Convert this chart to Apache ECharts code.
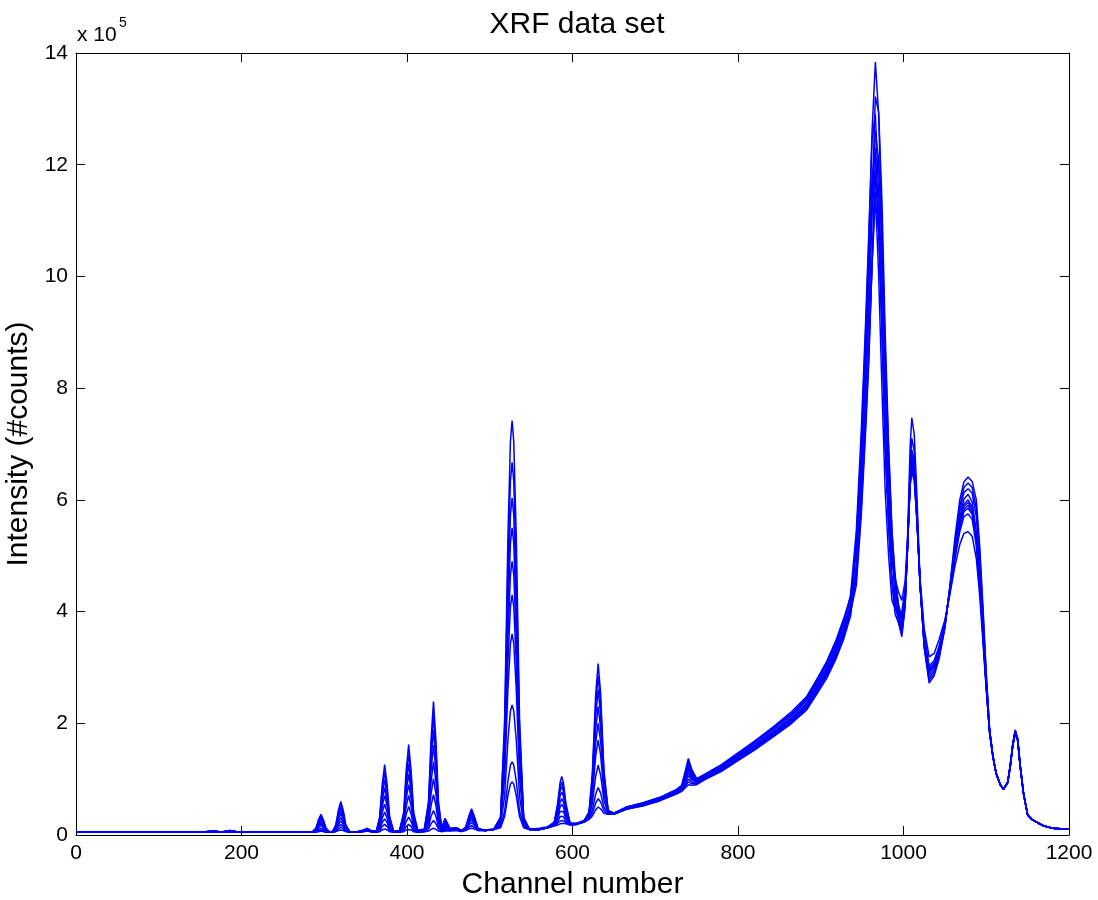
<!DOCTYPE html>
<html>
<head>
<meta charset="utf-8">
<title>XRF data set</title>
<script src="https://cdn.jsdelivr.net/npm/echarts@6/dist/echarts.min.js"></script>
<style>
  html, body { margin: 0; padding: 0; background: #fff; }
  #chart { width: 1098px; height: 900px; }
</style>
</head>
<body>
<div id="chart"></div>
<script>
const CH = [0, 60, 120, 150, 166, 176, 186, 196, 230, 260, 280,
  286, 290, 293, 296, 299, 302, 306,
  310, 314, 317, 320, 323, 326, 331,
  338, 346, 352, 358,
  363, 367, 370, 373, 376, 379, 384,
  391, 396, 399, 402, 405, 408, 413,
  421, 426, 429, 432, 435, 438, 442,
  446, 452, 460, 466,
  471, 475, 478, 481, 486,
  495, 505,
  513, 518, 522, 525, 527, 529, 532, 536, 541, 548,
  560, 570,
  578, 582, 585, 587, 589, 592, 597,
  605, 614,
  620, 624, 628, 631, 634, 638, 643, 650,
  665, 685, 705, 725,
  732, 736, 740, 744, 750,
  760, 780, 800, 820, 843, 865, 883, 895, 907, 918, 928,
  936, 943, 949, 954, 958, 962, 966, 970, 974, 978, 982, 986, 990, 994, 998,
  1002, 1005, 1008, 1010, 1013, 1016, 1020, 1025, 1031,
  1037, 1043, 1050, 1056, 1062, 1068, 1073, 1078, 1083, 1088, 1092, 1096, 1100, 1104, 1108, 1112, 1117, 1121,
  1126, 1129, 1132, 1135, 1138, 1141, 1145, 1150, 1155, 1162, 1170, 1180, 1190, 1200];

// intensities, in units of 10^5 counts
const S1 = [0.05,0.05,0.05,0.05,0.07,0.055,0.08,0.055,0.05,0.05,0.05,
  0.06,0.12,0.27,0.37,0.27,0.12,0.06,
  0.06,0.18,0.44,0.60,0.44,0.18,0.06,
  0.05,0.08,0.12,0.07,
  0.07,0.33,0.90,1.26,0.90,0.33,0.06,
  0.08,0.41,1.15,1.62,1.15,0.41,0.08,
  0.11,0.60,1.69,2.39,1.69,0.60,0.13,
  0.30,0.12,0.13,0.08,
  0.14,0.35,0.47,0.35,0.11,
  0.09,0.11,
  0.32,2.08,5.37,7.05,7.42,7.05,5.37,2.08,0.32,0.10,
  0.12,0.15,
  0.23,0.56,0.94,1.05,0.94,0.57,0.21,
  0.21,0.26,
  0.41,1.11,2.51,3.07,2.53,1.16,0.44,0.39,
  0.50,0.58,0.67,0.81,
  0.89,1.13,1.37,1.18,1.01,
  1.09,1.26,1.47,1.68,1.94,2.21,2.48,2.78,3.10,3.47,3.89,
  4.25,5.2,7.0,8.9,10.6,12.6,13.84,12.9,10.8,8.3,6.5,5.1,4.2,3.8,3.55,
  4.1,5.35,6.95,7.47,7.17,6.15,4.55,3.35,2.72,
  2.85,3.15,3.7,4.45,5.3,6.0,6.32,6.41,6.33,6.0,5.2,4.1,2.9,1.9,1.42,1.1,0.9,0.82,
  0.95,1.25,1.63,1.88,1.72,1.25,0.75,0.36,0.28,0.22,0.16,0.12,0.11,0.11];

const S2 = [0.05,0.05,0.05,0.05,0.07,0.055,0.08,0.055,0.05,0.05,0.05,
  0.06,0.12,0.25,0.34,0.25,0.12,0.06,
  0.06,0.17,0.40,0.55,0.40,0.17,0.05,
  0.05,0.08,0.11,0.07,
  0.07,0.30,0.81,1.13,0.81,0.30,0.06,
  0.08,0.37,1.03,1.45,1.03,0.37,0.08,
  0.10,0.54,1.52,2.14,1.52,0.54,0.12,
  0.27,0.11,0.13,0.08,
  0.14,0.33,0.44,0.33,0.11,
  0.08,0.10,
  0.30,1.87,4.83,6.34,6.67,6.34,4.83,1.87,0.30,0.10,
  0.10,0.13,
  0.22,0.52,0.85,0.95,0.85,0.53,0.21,
  0.20,0.25,
  0.40,1.05,2.33,2.85,2.35,1.10,0.44,0.39,
  0.50,0.57,0.67,0.80,
  0.88,1.09,1.32,1.14,1.00,
  1.08,1.25,1.46,1.66,1.92,2.18,2.45,2.76,3.07,3.43,3.85,
  4.2,4.73,6.24,7.9,9.4,11.38,13.22,12.94,11.33,8.92,7.01,5.47,4.5,3.93,3.6,
  4.1,5.25,6.65,7.1,6.87,5.95,4.5,3.38,2.77,
  2.89,3.19,3.72,4.43,5.2,5.88,6.22,6.3,6.22,5.85,5.05,4.0,2.85,1.89,1.42,1.1,0.9,0.82,
  0.95,1.25,1.62,1.87,1.72,1.25,0.75,0.36,0.28,0.22,0.16,0.12,0.11,0.11];

const S3 = [0.05,0.05,0.05,0.05,0.07,0.055,0.08,0.055,0.05,0.05,0.05,
  0.06,0.11,0.23,0.30,0.23,0.11,0.06,
  0.06,0.15,0.36,0.49,0.36,0.15,0.05,
  0.05,0.08,0.11,0.07,
  0.07,0.27,0.71,0.99,0.71,0.27,0.06,
  0.07,0.33,0.90,1.27,0.90,0.33,0.07,
  0.10,0.48,1.33,1.88,1.33,0.48,0.11,
  0.24,0.11,0.12,0.08,
  0.13,0.31,0.41,0.31,0.10,
  0.08,0.10,
  0.28,1.70,4.37,5.73,6.03,5.73,4.37,1.70,0.28,0.10,
  0.10,0.13,
  0.22,0.48,0.79,0.87,0.79,0.49,0.21,
  0.20,0.25,
  0.39,0.97,2.13,2.60,2.15,1.02,0.43,0.39,
  0.49,0.57,0.66,0.79,
  0.87,1.06,1.27,1.11,0.99,
  1.07,1.24,1.44,1.65,1.91,2.16,2.43,2.73,3.04,3.40,3.81,
  4.3,5.44,7.25,9.1,10.74,12.45,12.9,11.44,9.18,6.97,5.56,4.51,3.95,3.8,3.65,
  4.15,5.2,6.5,6.9,6.7,5.85,4.48,3.4,2.82,
  2.93,3.22,3.73,4.42,5.15,5.79,6.13,6.2,6.12,5.7,4.9,3.9,2.8,1.88,1.42,1.1,0.9,0.82,
  0.95,1.25,1.62,1.87,1.71,1.25,0.75,0.36,0.28,0.22,0.16,0.12,0.11,0.11];

const S4 = [0.05,0.05,0.05,0.05,0.07,0.055,0.075,0.055,0.05,0.05,0.05,
  0.05,0.10,0.20,0.27,0.20,0.10,0.05,
  0.06,0.14,0.32,0.43,0.32,0.14,0.05,
  0.05,0.07,0.10,0.06,
  0.07,0.23,0.61,0.85,0.61,0.23,0.06,
  0.07,0.29,0.78,1.09,0.78,0.29,0.07,
  0.09,0.42,1.15,1.61,1.15,0.42,0.11,
  0.21,0.10,0.12,0.07,
  0.13,0.29,0.38,0.29,0.10,
  0.08,0.10,
  0.26,1.56,3.99,5.23,5.50,5.23,3.99,1.56,0.26,0.10,
  0.10,0.13,
  0.21,0.44,0.70,0.77,0.70,0.45,0.20,
  0.20,0.24,
  0.37,0.88,1.89,2.30,1.91,0.93,0.42,0.38,
  0.49,0.56,0.65,0.78,
  0.85,1.03,1.21,1.08,0.97,
  1.06,1.22,1.42,1.62,1.88,2.13,2.40,2.69,2.99,3.35,3.76,
  4.12,4.83,6.32,7.93,9.37,11.17,12.6,12.08,10.41,8.19,6.5,5.16,4.37,3.95,3.7,
  4.18,5.17,6.42,6.8,6.62,5.8,4.47,3.42,2.87,
  2.98,3.26,3.75,4.4,5.07,5.68,6.01,6.1,5.96,5.43,4.64,3.65,2.7,1.87,1.41,1.1,0.9,0.82,
  0.95,1.24,1.61,1.86,1.71,1.24,0.75,0.36,0.28,0.22,0.16,0.12,0.11,0.11];

const S5 = [0.05,0.05,0.05,0.05,0.065,0.05,0.07,0.05,0.05,0.05,0.05,
  0.05,0.09,0.18,0.23,0.18,0.09,0.05,
  0.06,0.13,0.28,0.38,0.28,0.13,0.05,
  0.05,0.07,0.10,0.06,
  0.06,0.20,0.51,0.71,0.51,0.20,0.06,
  0.07,0.25,0.65,0.90,0.65,0.25,0.07,
  0.09,0.35,0.94,1.31,0.94,0.35,0.10,
  0.18,0.10,0.11,0.07,
  0.12,0.27,0.35,0.27,0.10,
  0.08,0.10,
  0.24,1.40,3.56,4.66,4.90,4.66,3.56,1.40,0.24,0.10,
  0.10,0.13,
  0.20,0.38,0.59,0.65,0.59,0.39,0.20,
  0.20,0.24,
  0.36,0.79,1.65,2.00,1.67,0.84,0.41,0.38,
  0.48,0.55,0.64,0.77,
  0.84,1.00,1.16,1.05,0.96,
  1.04,1.20,1.40,1.60,1.85,2.10,2.36,2.65,2.95,3.30,3.70,
  4.12,5.26,6.92,8.62,10.14,11.76,12.3,11.05,9.0,6.93,5.56,4.55,4.05,3.9,3.75,
  4.22,5.17,6.38,6.75,6.57,5.77,4.48,3.45,2.92,
  3.02,3.3,3.76,4.39,5.03,5.61,5.92,6.0,5.87,5.36,4.59,3.62,2.69,1.87,1.41,1.1,0.9,0.82,
  0.95,1.24,1.61,1.86,1.71,1.24,0.75,0.36,0.28,0.22,0.16,0.12,0.11,0.11];

const S6 = [0.05,0.05,0.05,0.05,0.06,0.05,0.07,0.05,0.05,0.05,0.05,
  0.05,0.08,0.16,0.20,0.16,0.08,0.05,
  0.06,0.11,0.23,0.31,0.23,0.11,0.05,
  0.05,0.07,0.09,0.06,
  0.06,0.17,0.40,0.55,0.40,0.17,0.06,
  0.06,0.20,0.51,0.71,0.51,0.20,0.06,
  0.08,0.28,0.73,1.01,0.73,0.28,0.09,
  0.16,0.09,0.11,0.07,
  0.11,0.24,0.31,0.24,0.09,
  0.08,0.10,
  0.23,1.23,3.12,4.09,4.30,4.09,3.12,1.23,0.23,0.10,
  0.10,0.13,
  0.19,0.33,0.50,0.55,0.50,0.34,0.20,
  0.20,0.24,
  0.34,0.70,1.41,1.70,1.43,0.75,0.40,0.38,
  0.48,0.54,0.63,0.76,
  0.83,0.97,1.11,1.02,0.95,
  1.03,1.19,1.39,1.58,1.83,2.08,2.34,2.62,2.92,3.27,3.66,
  4.0,4.47,5.73,7.16,8.44,10.22,12.1,12.07,10.78,8.64,6.87,5.44,4.64,4.1,3.8,
  4.26,5.18,6.35,6.7,6.52,5.75,4.49,3.48,2.94,
  3.04,3.31,3.77,4.38,5.01,5.57,5.88,5.95,5.83,5.32,4.57,3.61,2.68,1.86,1.41,1.1,0.9,0.82,
  0.95,1.24,1.6,1.85,1.7,1.24,0.75,0.36,0.28,0.22,0.16,0.12,0.11,0.11];

const S7 = [0.05,0.05,0.05,0.05,0.06,0.05,0.065,0.05,0.05,0.05,0.05,
  0.05,0.08,0.13,0.17,0.13,0.08,0.05,
  0.05,0.10,0.19,0.25,0.19,0.10,0.05,
  0.05,0.07,0.09,0.06,
  0.06,0.13,0.30,0.41,0.30,0.13,0.05,
  0.06,0.16,0.37,0.51,0.37,0.16,0.06,
  0.07,0.21,0.52,0.72,0.52,0.21,0.08,
  0.13,0.09,0.10,0.07,
  0.11,0.21,0.27,0.21,0.09,
  0.08,0.10,
  0.21,1.05,2.62,3.43,3.60,3.43,2.62,1.05,0.21,0.10,
  0.10,0.13,
  0.18,0.29,0.42,0.45,0.42,0.30,0.19,
  0.20,0.24,
  0.32,0.57,1.05,1.25,1.07,0.62,0.39,0.38,
  0.47,0.54,0.63,0.75,
  0.82,0.94,1.06,0.99,0.94,
  1.02,1.18,1.37,1.57,1.81,2.06,2.31,2.60,2.89,3.23,3.63,
  4.05,5.1,6.65,8.25,9.67,11.24,11.9,10.84,8.96,6.97,5.63,4.6,4.13,3.98,3.85,
  4.3,5.2,6.32,6.65,6.48,5.73,4.5,3.5,2.96,
  3.06,3.33,3.78,4.37,4.99,5.54,5.83,5.9,5.78,5.29,4.54,3.59,2.67,1.86,1.41,1.1,0.9,0.82,
  0.95,1.23,1.6,1.85,1.7,1.23,0.74,0.36,0.28,0.22,0.16,0.12,0.11,0.11];

const S8 = [0.05,0.05,0.05,0.05,0.06,0.05,0.065,0.05,0.05,0.05,0.05,
  0.05,0.07,0.10,0.12,0.10,0.07,0.05,
  0.05,0.08,0.15,0.19,0.15,0.08,0.05,
  0.05,0.06,0.08,0.06,
  0.05,0.11,0.22,0.29,0.22,0.11,0.05,
  0.06,0.11,0.24,0.32,0.24,0.11,0.06,
  0.07,0.15,0.33,0.44,0.33,0.15,0.07,
  0.11,0.08,0.10,0.07,
  0.10,0.18,0.22,0.18,0.09,
  0.08,0.10,
  0.17,0.70,1.71,2.22,2.33,2.22,1.71,0.70,0.17,0.10,
  0.10,0.13,
  0.17,0.24,0.33,0.35,0.33,0.25,0.19,
  0.19,0.23,
  0.30,0.45,0.73,0.85,0.75,0.50,0.38,0.38,
  0.47,0.53,0.62,0.75,
  0.81,0.90,1.00,0.95,0.92,
  1.01,1.16,1.36,1.55,1.79,2.04,2.29,2.57,2.86,3.20,3.59,
  3.98,4.6,5.88,7.29,8.56,10.21,11.7,11.41,10.02,8.0,6.42,5.15,4.53,4.12,3.9,
  4.34,5.22,6.29,6.6,6.44,5.7,4.51,3.53,2.99,
  3.08,3.35,3.79,4.36,4.97,5.5,5.79,5.85,5.74,5.25,4.52,3.58,2.66,1.85,1.41,1.1,0.9,0.82,
  0.94,1.23,1.59,1.84,1.69,1.23,0.74,0.36,0.28,0.22,0.16,0.12,0.11,0.11];

const S9 = [0.05,0.05,0.05,0.05,0.055,0.05,0.06,0.05,0.05,0.05,0.05,
  0.05,0.06,0.08,0.09,0.08,0.06,0.05,
  0.05,0.07,0.11,0.14,0.11,0.07,0.05,
  0.05,0.06,0.07,0.06,
  0.05,0.08,0.15,0.19,0.15,0.08,0.05,
  0.05,0.08,0.15,0.19,0.15,0.08,0.05,
  0.06,0.11,0.20,0.26,0.20,0.11,0.07,
  0.09,0.08,0.09,0.07,
  0.09,0.14,0.17,0.14,0.08,
  0.08,0.10,
  0.14,0.43,0.97,1.25,1.31,1.25,0.97,0.43,0.14,0.10,
  0.10,0.13,
  0.17,0.21,0.25,0.27,0.26,0.22,0.18,
  0.19,0.23,
  0.29,0.39,0.57,0.65,0.59,0.44,0.37,0.37,
  0.46,0.53,0.61,0.74,
  0.79,0.87,0.95,0.92,0.91,
  1.00,1.15,1.34,1.54,1.78,2.02,2.27,2.54,2.83,3.17,3.55,
  4.1,5.33,6.94,8.55,9.99,11.39,11.5,10.02,7.96,6.12,5.0,4.2,4.05,3.95,4.0,
  4.42,5.25,6.27,6.55,6.4,5.7,4.55,3.58,3.03,
  3.12,3.38,3.8,4.35,4.93,5.43,5.7,5.75,5.65,5.18,4.47,3.55,2.65,1.85,1.41,1.1,0.9,0.82,
  0.94,1.22,1.59,1.83,1.69,1.22,0.74,0.36,0.28,0.22,0.16,0.12,0.11,0.11];

const S10 = [0.05,0.05,0.05,0.05,0.055,0.05,0.06,0.05,0.05,0.05,0.05,
  0.05,0.05,0.06,0.07,0.06,0.05,0.05,
  0.05,0.06,0.08,0.09,0.08,0.06,0.05,
  0.05,0.06,0.07,0.05,
  0.05,0.06,0.09,0.11,0.09,0.06,0.05,
  0.05,0.06,0.09,0.10,0.09,0.06,0.05,
  0.06,0.07,0.10,0.12,0.10,0.07,0.06,
  0.07,0.07,0.08,0.06,
  0.08,0.11,0.12,0.11,0.08,
  0.08,0.10,
  0.13,0.33,0.71,0.91,0.95,0.91,0.71,0.33,0.13,0.10,
  0.10,0.13,
  0.16,0.18,0.20,0.21,0.21,0.20,0.18,
  0.19,0.23,
  0.28,0.34,0.45,0.50,0.47,0.39,0.37,0.37,
  0.46,0.52,0.61,0.73,
  0.78,0.84,0.90,0.89,0.90,
  0.99,1.14,1.33,1.52,1.76,2.00,2.24,2.52,2.80,3.14,3.52,
  3.92,4.73,6.05,7.45,8.7,10.24,11.35,10.79,9.29,7.4,5.98,4.88,4.58,4.35,4.2,
  4.55,5.35,6.25,6.5,6.34,5.7,4.6,3.7,3.19,
  3.25,3.5,3.85,4.3,4.8,5.2,5.4,5.43,5.35,4.95,4.3,3.45,2.6,1.82,1.4,1.09,0.89,0.82,
  0.93,1.22,1.58,1.82,1.68,1.22,0.74,0.36,0.28,0.22,0.16,0.12,0.11,0.11];

const SPECTRA = [S1, S2, S3, S4, S5, S6, S7, S8, S9, S10];

const X_TICKS = [0, 200, 400, 600, 800, 1000, 1200];
const Y_TICKS = [0, 2, 4, 6, 8, 10, 12, 14];

const chart = echarts.init(document.getElementById('chart'), null, { renderer: 'canvas' });

const FONT = 'Liberation Sans, Arial, Helvetica, sans-serif';

const seriesList = SPECTRA.map((vals, k) => ({
  type: 'line',
  name: 'spectrum ' + (k + 1),
  data: CH.map((c, i) => [c, vals[i]]),
  showSymbol: false,
  silent: true,
  lineStyle: { color: '#0000ff', width: 1.5 },
  itemStyle: { color: '#0000ff' }
}));

const baseX = {
  type: 'value',
  min: X_TICKS[0],
  max: X_TICKS[X_TICKS.length - 1],
  interval: 200,
  splitLine: { show: false },
  axisLine: { show: true, onZero: false, lineStyle: { color: '#000', width: 1 } },
  axisTick: { show: true, inside: true, length: 9, lineStyle: { color: '#000' } }
};
const baseY = {
  type: 'value',
  min: Y_TICKS[0],
  max: Y_TICKS[Y_TICKS.length - 1],
  interval: 2,
  splitLine: { show: false },
  axisLine: { show: true, onZero: false, lineStyle: { color: '#000', width: 1 } },
  axisTick: { show: true, inside: true, length: 9, lineStyle: { color: '#000' } }
};

chart.setOption({
  animation: false,
  backgroundColor: '#fff',
  title: {
    text: 'XRF data set',
    left: 572,
    top: 5,
    textAlign: 'center',
    textStyle: { fontFamily: FONT, fontSize: 30, fontWeight: 'normal', color: '#000' }
  },
  graphic: [
    { type: 'text', left: 77, top: 25, style: { text: 'x 10', font: '21px ' + FONT, fill: '#000' } },
    { type: 'text', left: 119, top: 16, style: { text: '5', font: '14px ' + FONT, fill: '#000' } }
  ],
  grid: { left: 76, top: 53, width: 993, height: 782, containLabel: false, outerBoundsMode: 'none' },
  xAxis: [
    Object.assign({}, baseX, {
      position: 'bottom',
      name: 'Channel number',
      nameLocation: 'middle',
      nameGap: 35,
      nameTextStyle: { fontFamily: FONT, fontSize: 30, color: '#000' },
      axisLabel: { fontFamily: FONT, fontSize: 21, color: '#000', margin: 8, formatter: v => String(v) }
    }),
    Object.assign({}, baseX, { position: 'top', axisLabel: { show: false } })
  ],
  yAxis: [
    Object.assign({}, baseY, {
      position: 'left',
      name: 'Intensity (#counts)',
      nameLocation: 'middle',
      nameGap: 27,
      nameRotate: 90,
      nameTextStyle: { fontFamily: FONT, fontSize: 30, color: '#000' },
      axisLabel: { fontFamily: FONT, fontSize: 21, color: '#000', margin: 8, formatter: v => String(v) }
    }),
    Object.assign({}, baseY, { position: 'right', axisLabel: { show: false } })
  ],
  series: seriesList
});
</script>
</body>
</html>
